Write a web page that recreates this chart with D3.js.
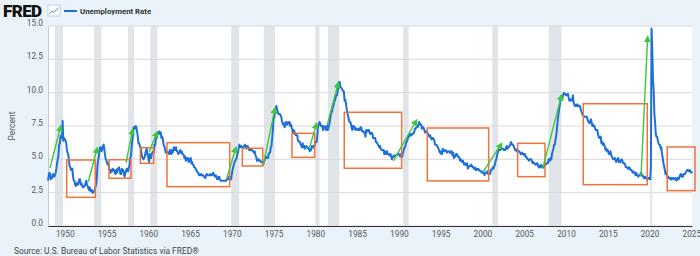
<!DOCTYPE html>
<html><head><meta charset="utf-8">
<script src="https://cdn.jsdelivr.net/npm/d3@7"></script>
<style>
html,body{margin:0;padding:0;background:#eaf2fa;}
svg{display:block;font-family:Roboto,"Noto Sans",sans-serif;}
</style></head><body>
<svg id="c" width="700" height="256"></svg>
<script>
// Monthly unemployment rate, starting Jan 1948
const startYear = 1948;
const unrate = [
3.4,3.8,4.0,3.9,3.5,3.6,3.6,3.9,3.8,3.7,3.8,4.0,
4.3,4.7,5.0,5.3,6.1,6.2,6.7,6.8,6.6,7.9,6.4,6.6,
6.5,6.4,6.3,5.8,5.5,5.4,5.0,4.5,4.4,4.2,4.2,4.3,
3.7,3.4,3.4,3.1,3.0,3.2,3.1,3.1,3.3,3.5,3.5,3.1,
3.2,3.1,2.9,2.9,3.0,3.0,3.2,3.4,3.1,3.0,2.8,2.7,
2.9,2.6,2.6,2.7,2.5,2.5,2.6,2.7,2.9,3.1,3.5,4.5,
4.9,5.2,5.7,5.9,5.9,5.6,5.8,6.0,6.1,5.7,5.3,5.0,
4.9,4.7,4.6,4.7,4.3,4.2,4.0,4.2,4.1,4.3,4.2,4.2,
4.0,3.9,4.2,4.0,4.3,4.3,4.4,4.1,3.9,3.9,4.3,4.2,
4.2,3.9,3.7,3.9,4.1,4.3,4.2,4.1,4.4,4.5,5.1,5.2,
5.8,6.4,6.7,7.4,7.4,7.3,7.5,7.4,7.1,6.7,6.2,6.2,
6.0,5.9,5.6,5.2,5.1,5.0,5.1,5.2,5.5,5.7,5.8,5.3,
5.2,4.8,5.4,5.2,5.1,5.4,5.5,5.6,5.5,6.1,6.1,6.6,
6.6,6.9,6.9,7.0,7.1,6.9,7.0,6.6,6.7,6.5,6.1,6.0,
5.8,5.5,5.6,5.6,5.5,5.5,5.4,5.7,5.6,5.4,5.7,5.5,
5.7,5.9,5.7,5.7,5.9,5.6,5.6,5.4,5.5,5.5,5.7,5.5,
5.6,5.4,5.4,5.3,5.1,5.2,4.9,5.0,5.1,5.1,4.8,5.0,
4.9,5.1,4.7,4.8,4.6,4.6,4.4,4.4,4.3,4.2,4.1,4.0,
4.0,3.8,3.8,3.8,3.9,3.8,3.8,3.8,3.7,3.7,3.6,3.8,
3.9,3.8,3.8,3.8,3.8,3.9,3.8,3.8,3.8,4.0,3.9,3.8,
3.7,3.8,3.7,3.5,3.5,3.7,3.7,3.5,3.4,3.4,3.4,3.4,
3.4,3.4,3.4,3.4,3.4,3.5,3.5,3.5,3.7,3.7,3.5,3.5,
3.9,4.2,4.4,4.6,4.8,4.9,5.0,5.1,5.4,5.5,5.9,6.1,
5.9,5.9,6.0,5.9,5.9,5.9,6.0,6.1,6.0,5.8,6.0,6.0,
5.8,5.7,5.8,5.7,5.7,5.7,5.6,5.6,5.5,5.6,5.3,5.2,
4.9,5.0,4.9,5.0,4.9,4.9,4.8,4.8,4.8,4.6,4.8,4.9,
5.1,5.2,5.1,5.1,5.1,5.4,5.5,5.5,5.9,6.0,6.6,7.2,
8.1,8.1,8.6,8.8,9.0,8.8,8.6,8.4,8.4,8.4,8.3,8.2,
7.9,7.7,7.6,7.7,7.4,7.6,7.8,7.8,7.6,7.7,7.8,7.8,
7.5,7.6,7.4,7.2,7.0,7.2,6.9,7.0,6.8,6.8,6.8,6.4,
6.4,6.3,6.3,6.1,6.0,5.9,6.2,5.9,6.0,5.8,5.9,6.0,
5.9,5.9,5.8,5.8,5.6,5.7,5.7,6.0,5.9,6.0,5.9,6.0,
6.3,6.3,6.3,6.9,7.5,7.6,7.8,7.7,7.5,7.5,7.5,7.2,
7.5,7.4,7.4,7.2,7.5,7.5,7.2,7.4,7.6,7.9,8.3,8.5,
8.6,8.9,9.0,9.3,9.4,9.6,9.8,9.8,10.1,10.4,10.8,10.8,
10.4,10.4,10.3,10.2,10.1,10.1,9.4,9.5,9.2,8.8,8.5,8.3,
8.0,7.8,7.8,7.7,7.4,7.2,7.5,7.5,7.3,7.4,7.2,7.3,
7.3,7.2,7.2,7.3,7.2,7.4,7.4,7.1,7.1,7.1,7.0,7.0,
6.7,7.2,7.2,7.1,7.2,7.2,7.0,6.9,7.0,7.0,6.9,6.6,
6.6,6.6,6.6,6.3,6.3,6.2,6.1,6.0,5.9,6.0,5.8,5.7,
5.7,5.7,5.7,5.4,5.6,5.4,5.4,5.6,5.4,5.4,5.3,5.3,
5.4,5.2,5.0,5.2,5.2,5.3,5.2,5.2,5.3,5.3,5.4,5.4,
5.4,5.3,5.2,5.4,5.4,5.2,5.5,5.7,5.9,5.9,6.2,6.3,
6.4,6.6,6.8,6.7,6.9,6.9,6.8,6.9,6.9,7.0,7.0,7.3,
7.3,7.4,7.4,7.4,7.6,7.8,7.7,7.6,7.6,7.3,7.4,7.4,
7.3,7.1,7.0,7.1,7.1,7.0,6.9,6.8,6.7,6.8,6.6,6.5,
6.6,6.6,6.5,6.4,6.1,6.1,6.1,6.0,5.9,5.8,5.6,5.5,
5.6,5.4,5.4,5.8,5.6,5.6,5.7,5.7,5.6,5.5,5.6,5.6,
5.6,5.5,5.5,5.6,5.6,5.3,5.5,5.1,5.2,5.2,5.4,5.4,
5.3,5.2,5.2,5.1,4.9,5.0,4.9,4.8,4.9,4.7,4.6,4.7,
4.6,4.6,4.7,4.3,4.4,4.5,4.5,4.5,4.6,4.5,4.4,4.4,
4.3,4.4,4.2,4.3,4.2,4.3,4.3,4.2,4.2,4.1,4.1,4.0,
4.0,4.1,4.0,3.8,4.0,4.0,4.0,4.1,3.9,3.9,3.9,3.9,
4.2,4.2,4.3,4.4,4.3,4.5,4.6,4.9,5.0,5.3,5.5,5.7,
5.7,5.7,5.7,5.9,5.8,5.8,5.8,5.7,5.7,5.7,5.9,6.0,
5.8,5.9,5.9,6.0,6.1,6.3,6.2,6.1,6.1,6.0,5.8,5.7,
5.7,5.6,5.8,5.6,5.6,5.6,5.5,5.4,5.4,5.5,5.4,5.4,
5.3,5.4,5.2,5.2,5.1,5.0,5.0,4.9,5.0,5.0,5.0,4.9,
4.7,4.8,4.7,4.7,4.6,4.6,4.7,4.7,4.5,4.4,4.5,4.4,
4.6,4.5,4.4,4.5,4.4,4.6,4.7,4.6,4.7,4.7,4.7,5.0,
5.0,4.9,5.1,5.0,5.4,5.6,5.8,6.1,6.1,6.5,6.8,7.3,
7.8,8.3,8.7,9.0,9.4,9.5,9.5,9.6,9.8,10.0,9.9,9.9,
9.8,9.8,9.9,9.9,9.6,9.4,9.4,9.5,9.5,9.4,9.8,9.3,
9.1,9.0,9.0,9.1,9.0,9.1,9.0,9.0,9.0,8.8,8.6,8.5,
8.3,8.3,8.2,8.2,8.2,8.2,8.2,8.0,7.8,7.8,7.7,7.9,
8.0,7.7,7.5,7.6,7.5,7.5,7.3,7.2,7.2,7.2,6.9,6.7,
6.6,6.7,6.7,6.2,6.3,6.1,6.2,6.1,5.9,5.7,5.8,5.6,
5.7,5.5,5.4,5.4,5.6,5.3,5.2,5.1,5.0,5.0,5.1,5.0,
4.8,4.9,5.0,5.1,4.8,4.9,4.8,4.9,5.0,4.9,4.7,4.7,
4.7,4.6,4.4,4.4,4.4,4.3,4.3,4.4,4.3,4.2,4.2,4.1,
4.0,4.1,4.0,4.0,3.8,4.0,3.8,3.8,3.7,3.8,3.8,3.9,
4.0,3.8,3.8,3.7,3.6,3.6,3.7,3.6,3.5,3.6,3.6,3.6,
3.5,3.5,4.4,14.8,13.2,11.0,10.2,8.4,7.8,6.9,6.7,6.7,
6.4,6.2,6.1,6.1,5.8,5.9,5.4,5.1,4.7,4.5,4.2,3.9,
4.0,3.8,3.6,3.7,3.6,3.6,3.5,3.6,3.5,3.6,3.6,3.5,
3.5,3.6,3.5,3.4,3.6,3.6,3.5,3.7,3.8,3.9,3.7,3.8,
3.7,3.9,3.9,3.9,4.0,4.1,4.2,4.2,4.1,4.1,4.2,4.1,
4.0,4.1
];

// NBER recessions [start, end] as decimal years
const recessionStart = [1948.83,1953.5,1957.58,1960.25,1969.92,1973.83,1980.0,1981.5,1990.5,2001.17,2007.92,2020.08];
const recessionEnd   = [1949.79,1954.38,1958.29,1961.08,1970.88,1975.17,1980.5,1982.88,1991.17,2001.88,2009.46,2020.29];

// Orange boxes: [x0 year, x1 year, y top, y bottom]
const boxX0 = [1950.24,1955.3,1959.05,1962.24,1971.26,1977.2,1983.46,1993.4,2004.22,2012.07,2022.12];
const boxX1 = [1953.66,1957.93,1960.65,1969.75,1973.7,1979.92,1990.33,2000.75,2007.49,2019.73,2025.44];
const boxYTop = [4.95,4.97,5.87,6.25,5.83,6.95,8.53,7.35,6.2,9.17,5.93];
const boxYBot = [2.15,3.58,4.70,2.95,4.5,5.15,4.33,3.38,3.7,3.1,2.65];

// Green arrows: from (x0,y0) to (x1,y1)
const arrowX0 = [1948.24,1952.82,1957.34,1960.12,1969.39,1973.77,1979.28,1981.43,1989.33,2000.03,2007.2,2018.98];
const arrowY0 = [4.35,3.32,4.75,5.57,3.58,4.58,5.83,7.58,4.88,4.0,4.28,3.7];
const arrowX1 = [1949.52,1953.9,1958.14,1961.08,1970.5,1975.17,1980.16,1982.75,1992.13,2002.3,2009.48,2019.78];
const arrowY1 = [7.5,5.87,7.25,7.07,5.9,8.83,7.7,10.75,7.95,6.2,9.83,14.2];

const yTicks = [0,2.5,5,7.5,10,12.5,15];
const xTicks = [1950,1955,1960,1965,1970,1975,1980,1985,1990,1995,2000,2005,2010,2015,2020,2025];

const svg = d3.select("#c");
const L = 48, R = 692, T = 26, B = 226;

const dec2date = v => { const y = Math.floor(v); const m = (v - y) * 12; return new Date(y, 0, 1 + Math.round(m * 30.44)); };
const x = d3.scaleTime().domain([new Date(1948,0,1), new Date(2025,1,1)]).range([L, R]);
const y = d3.scaleLinear().domain([0,15]).range([B, T]);

const series = unrate.map((v,i) => ({d: new Date(startYear + Math.floor(i/12), i%12, 1), v}));

// plot background
svg.append("rect").attr("x", L).attr("y", T).attr("width", R-L).attr("height", B-T).attr("fill", "#fff");

// recession bands
svg.append("g").selectAll("rect").data(recessionStart).join("rect")
  .attr("x", (d) => x(dec2date(d)))
  .attr("width", (d,i) => Math.max(2, x(dec2date(recessionEnd[i])) - x(dec2date(d))))
  .attr("y", T).attr("height", B-T).attr("fill", "#e1e5ea");

// gridlines
svg.append("g").selectAll("line").data(yTicks).join("line")
  .attr("x1", L).attr("x2", R).attr("y1", d => y(d)).attr("y2", d => y(d))
  .attr("stroke", "#d9d9d9").attr("stroke-width", 1);

// left border
svg.append("line").attr("x1", L+0.5).attr("x2", L+0.5).attr("y1", T).attr("y2", B).attr("stroke", "#c8c8c8");

// y tick labels
svg.append("g").selectAll("text").data(yTicks).join("text")
  .attr("x", 43).attr("y", d => y(d)).attr("text-anchor", "end")
  .attr("font-size", 8.3).attr("fill", "#595959").text(d => d.toFixed(1));

svg.append("text").attr("transform", "translate(15,126) rotate(-90)")
  .attr("text-anchor", "middle").attr("font-size", 8.5).attr("fill", "#595959").text("Percent");

// x axis
const xAxis = d3.axisBottom(x).tickValues(xTicks.map(t => new Date(t,0,1))).tickSize(0).tickFormat(d3.timeFormat("%Y"));
const gx = svg.append("g").attr("transform", `translate(0,${B})`).call(xAxis);
gx.select(".domain").attr("stroke", "#333").attr("stroke-width", 1.2);
gx.selectAll("text").attr("font-size", 8.3).attr("fill", "#595959").attr("y", 11).attr("dy", 0)
  .attr("font-family", "Roboto, 'Noto Sans', sans-serif");

// line
svg.append("path").datum(series)
  .attr("d", d3.line().x(d => x(d.d)).y(d => y(d.v)))
  .attr("fill", "none").attr("stroke", "#1e6fd9").attr("stroke-width", 2).attr("stroke-linejoin", "round");

// orange boxes
svg.append("g").selectAll("rect").data(boxX0).join("rect")
  .attr("x", d => x(dec2date(d)))
  .attr("width", (d,i) => x(dec2date(boxX1[i])) - x(dec2date(d)))
  .attr("y", (d,i) => y(boxYTop[i]))
  .attr("height", (d,i) => y(boxYBot[i]) - y(boxYTop[i]))
  .attr("fill", "none").attr("stroke", "#f0733a").attr("stroke-width", 1.5);

// green arrows
svg.append("defs").append("marker").attr("id", "ah").attr("viewBox", "0 0 10 10")
  .attr("refX", 8).attr("refY", 5).attr("markerWidth", 5).attr("markerHeight", 5)
  .attr("orient", "auto").append("path").attr("d", "M0,0L10,5L0,10z").attr("fill", "#3fc73a");
svg.append("g").selectAll("line").data(arrowX0).join("line")
  .attr("x1", d => x(dec2date(d))).attr("y1", (d,i) => y(arrowY0[i]))
  .attr("x2", (d,i) => x(dec2date(arrowX1[i]))).attr("y2", (d,i) => y(arrowY1[i]))
  .attr("stroke", "#3fc73a").attr("stroke-width", 1.4).attr("marker-end", "url(#ah)");

// header
svg.append("text").attr("x", 3).attr("y", 17).attr("font-size", 17).attr("font-weight", 900)
  .attr("fill", "#111").attr("letter-spacing", "-0.6").attr("font-family", "Roboto, Arial, sans-serif").text("FRED");
const ic = svg.append("g").attr("transform", "translate(48,5)");
ic.append("rect").attr("width", 12).attr("height", 11).attr("fill", "#fff").attr("stroke", "#b7c9e0").attr("stroke-width", 0.8);
ic.append("path").attr("d", "M1.5,9 L4,6 L6,7.5 L10.5,2.5").attr("fill", "none").attr("stroke", "#5b8fd6").attr("stroke-width", 1);
svg.append("line").attr("x1", 64).attr("x2", 77).attr("y1", 11).attr("y2", 11).attr("stroke", "#1e6fd9").attr("stroke-width", 2);
svg.append("text").attr("x", 80).attr("y", 14).attr("font-size", 7.8).attr("font-weight", 700)
  .attr("fill", "#333").text("Unemployment Rate");

// source
svg.append("text").attr("x", 14).attr("y", 254).attr("font-size", 8.4).attr("fill", "#444")
  .text("Source: U.S. Bureau of Labor Statistics via FRED®");
</script>
</body></html>
